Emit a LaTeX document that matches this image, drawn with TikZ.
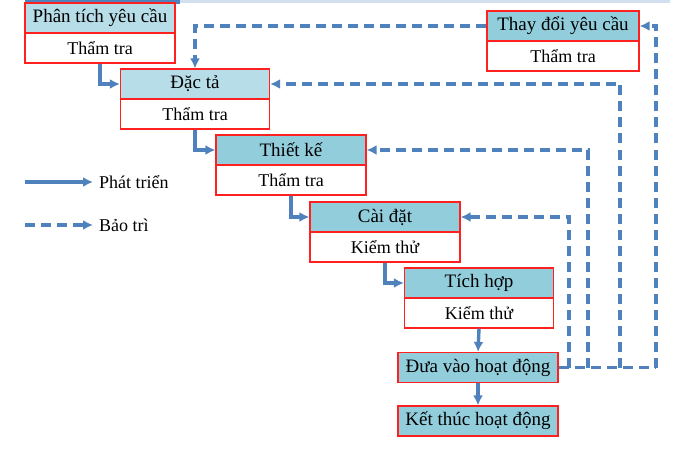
\documentclass[tikz,border=0pt]{standalone}
\usepackage{fontspec}
\setmainfont{Liberation Serif}
\usetikzlibrary{arrows.meta}
\definecolor{lineblue}{HTML}{4F81BD}
\definecolor{hdrlight}{HTML}{B7DDE8}
\definecolor{hdrdark}{HTML}{92CDDC}
\definecolor{boxred}{HTML}{FF2020}
\begin{document}
\begin{tikzpicture}[x=1pt,y=-1pt,
  hdr/.style={draw=boxred,line width=1.2pt,fill=hdrdark,minimum height=30pt,inner sep=0pt,
    font=\fontsize{19}{22}\selectfont},
  hdrl/.style={hdr,fill=hdrlight},
  body/.style={draw=boxred,line width=1.2pt,fill=white,minimum height=30pt,inner sep=0pt,
    font=\fontsize{18}{22}\selectfont},
  devline/.style={draw=lineblue,line width=3.4pt,-{Latex[length=10pt,width=10pt]}},
  mntline/.style={draw=lineblue,line width=3.4pt,dash pattern=on 10pt off 6pt,-{Latex[length=10pt,width=10pt]}},
  legtext/.style={anchor=west,inner sep=0pt,font=\fontsize{18}{22}\selectfont}]
\useasboundingbox (0,0) rectangle (677,468);
\fill[lineblue] (25,0) rectangle (180,4);
\fill[lineblue!25] (180,0) rectangle (670,3);
% boxes
\node[hdrl,minimum width=150pt] (pt) at (100,18) {Phân tích yêu cầu};
\node[body,minimum width=150pt] (ptb) at (100,48) {Thẩm tra};
\node[hdrl,minimum width=149pt] (dt) at (195,84) {Đặc tả};
\node[body,minimum width=149pt] (dtb) at (195,114) {Thẩm tra};
\node[hdr,minimum width=150pt] (tk) at (291,150) {Thiết kế};
\node[body,minimum width=150pt] (tkb) at (291,180) {Thẩm tra};
\node[hdr,minimum width=150pt] (cd) at (385,217) {Cài đặt};
\node[body,minimum width=150pt] (cdb) at (385,247) {Kiểm thử};
\node[hdr,minimum width=149pt] (th) at (479,283) {Tích hợp};
\node[body,minimum width=149pt] (thb) at (479,313) {Kiểm thử};
\node[hdr,minimum width=160pt] (dv) at (478,367.5) {Đưa vào hoạt động};
\node[hdr,minimum width=160pt] (kt) at (478,421) {Kết thúc hoạt động};
\node[hdr,minimum width=152pt] (td) at (563,26) {Thay đổi yêu cầu};
\node[body,minimum width=152pt] (tdb) at (563,56) {Thẩm tra};
% development arrows
\draw[devline] (ptb.south) |- (dt.west);
\draw[devline] (dtb.south) |- (tk.west);
\draw[devline] (tkb.south) |- (cd.west);
\draw[devline] (cdb.south) |- (th.west);
\draw[devline] (thb.south) -- (dv.north);
\draw[devline] (dv.south) -- (kt.north);
% maintenance arrows
\coordinate (m1) at (569,367.5);
\coordinate (m2) at (588,367.5);
\coordinate (m3) at (620,367.5);
\coordinate (m4) at (656,367.5);
\draw[mntline,-] (dv.east) -- (m4);
\draw[mntline] (m4) |- (td.east);
\draw[mntline] (m1) |- (cd.east);
\draw[mntline] (m2) |- (tk.east);
\draw[mntline] (m3) |- (dt.east);
\draw[mntline] (td.west) -| (dt.north);
% legend
\coordinate (l1a) at (25,182);
\coordinate (l1b) at (93,182);
\coordinate (l2a) at (25,225);
\coordinate (l2b) at (93,225);
\draw[devline] (l1a) -- (l1b);
\draw[mntline] (l2a) -- (l2b);
\node[legtext] (lt1) at (99,182) {Phát triển};
\node[legtext] (lt2) at (99,225) {Bảo trì};
\end{tikzpicture}
\end{document}
